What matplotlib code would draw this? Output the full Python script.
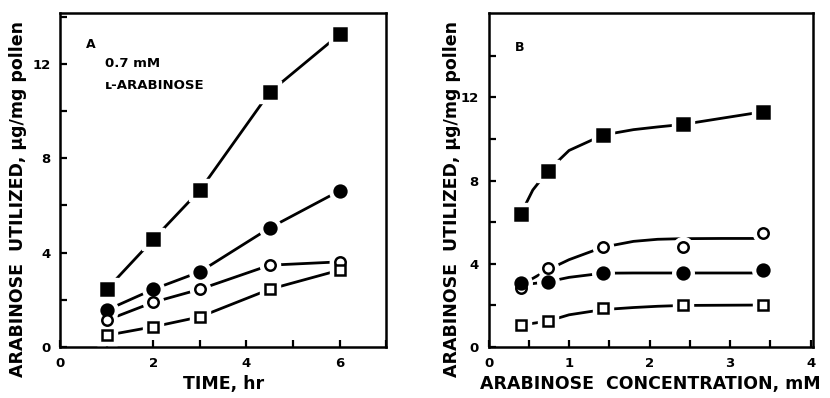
import matplotlib
matplotlib.use("Agg")
import matplotlib.pyplot as plt

plt.rcParams['font.family'] = ['DejaVu Sans']
plt.rcParams['font.weight'] = 'bold'

# panel A: time course at 0.7 mM L-arabinose
time_hr = [1, 2, 3, 4.5, 6]
a_fsq = [2.46, 4.57, 6.65, 10.8, 13.25]
a_fci = [1.57, 2.45, 3.19, 5.05, 6.62]
a_oci = [1.14, 1.90, 2.45, 3.47, 3.61]
a_osq = [0.50, 0.86, 1.28, 2.45, 3.26]

# panel B: concentration dependence
conc_mm = [0.4, 0.74, 1.42, 2.41, 3.41]
b_fsq = [6.39, 8.48, 10.19, 10.70, 11.31]
b_oci = [2.82, 3.78, 4.82, 4.82, 5.50]
b_fci = [3.09, 3.14, 3.57, 3.57, 3.70]
b_osq = [1.06, 1.25, 1.86, 2.02, 2.02]

# hand-drawn curves in panel B
curve_x = [0.4, 0.55, 0.74, 1.0, 1.42, 1.8, 2.1, 2.41, 2.9, 3.41]
curve_fsq = [6.39, 7.55, 8.48, 9.45, 10.19, 10.45, 10.58, 10.70, 11.0, 11.31]
curve_oci = [2.95, 3.30, 3.72, 4.20, 4.80, 5.08, 5.18, 5.21, 5.22, 5.22]
curve_fci = [2.98, 3.05, 3.14, 3.35, 3.55, 3.56, 3.56, 3.56, 3.56, 3.56]
curve_osq = [1.06, 1.14, 1.25, 1.55, 1.80, 1.90, 1.96, 2.00, 2.01, 2.02]

LW = 2.0


def marks(ax, x, y, m, filled, ms):
    # white halo so the line stops short of each symbol
    ax.plot(x, y, ls='none', marker=m, ms=ms + 7, mfc='white', mec='white', zorder=3)
    ax.plot(x, y, ls='none', marker=m, ms=ms, mfc='black' if filled else 'white',
            mec='black', mew=1.8, zorder=4)


def style(ax):
    for s in ax.spines.values():
        s.set_linewidth(1.8)
    ax.tick_params(direction='in', width=1.6, length=5, labelsize=9.5, pad=7)
    ax.tick_params(which='minor', direction='in', width=1.6, length=5)
    for lab in ax.get_xticklabels() + ax.get_yticklabels():
        lab.set_fontweight('bold')


fig = plt.figure(figsize=(8.3, 3.98), dpi=100)
ax1 = fig.add_axes([0.0728, 0.128, 0.3923, 0.839])
ax2 = fig.add_axes([0.5886, 0.128, 0.3910, 0.839])

# panel A
for ys, m, f, ms in [(a_fsq, 's', True, 9), (a_fci, 'o', True, 8.5),
                     (a_oci, 'o', False, 7.5), (a_osq, 's', False, 7.5)]:
    ax1.plot(time_hr, ys, color='black', lw=LW, zorder=2)
    marks(ax1, time_hr, ys, m, f, ms)

ax1.set_xlim(0, 7)
ax1.set_ylim(0, 14.15)
ax1.set_xticks([0, 2, 4, 6])
ax1.set_xticks([1, 3, 5, 7], minor=True)
ax1.set_yticks([0, 4, 8, 12])
ax1.set_yticks([2, 6, 10, 14], minor=True)
style(ax1)
ax1.text(0.55, 12.8, 'A', fontsize=9, fontweight='bold', va='center')
ax1.text(0.95, 12.0, '0.7 mM', fontsize=9.5, fontweight='bold', va='center')
ax1.text(0.95, 11.1, 'ʟ-ARABINOSE', fontsize=9.5, fontweight='bold', va='center')
ax1.set_xlabel('TIME, hr', fontsize=12.5, fontweight='bold', labelpad=4)

# panel B
for cy, ys, m, f, ms in [(curve_fsq, b_fsq, 's', True, 9), (curve_oci, b_oci, 'o', False, 7.5),
                         (curve_fci, b_fci, 'o', True, 8.5), (curve_osq, b_osq, 's', False, 7.5)]:
    ax2.plot(curve_x, cy, color='black', lw=LW, zorder=2)
    marks(ax2, conc_mm, ys, m, f, ms)

ax2.set_xlim(0, 4.03)
ax2.set_ylim(0, 16.05)
ax2.set_xticks([0, 1, 2, 3, 4])
ax2.set_xticks([0.5, 1.5, 2.5, 3.5], minor=True)
ax2.set_yticks([0, 4, 8, 12])
ax2.set_yticks([2, 6, 10, 14], minor=True)
style(ax2)
ax2.text(0.33, 14.4, 'B', fontsize=9, fontweight='bold', va='center')
ax2.set_xlabel('ARABINOSE  CONCENTRATION, mM', fontsize=12.5, fontweight='bold', labelpad=4)

ylab = 'ARABINOSE  UTILIZED, µg/mg pollen'
fig.text(0.022, 0.5, ylab, rotation=90, fontsize=12.5, fontweight='bold', ha='center', va='center')
fig.text(0.545, 0.5, ylab, rotation=90, fontsize=12.5, fontweight='bold', ha='center', va='center')

fig.savefig('out.png', dpi=100)
